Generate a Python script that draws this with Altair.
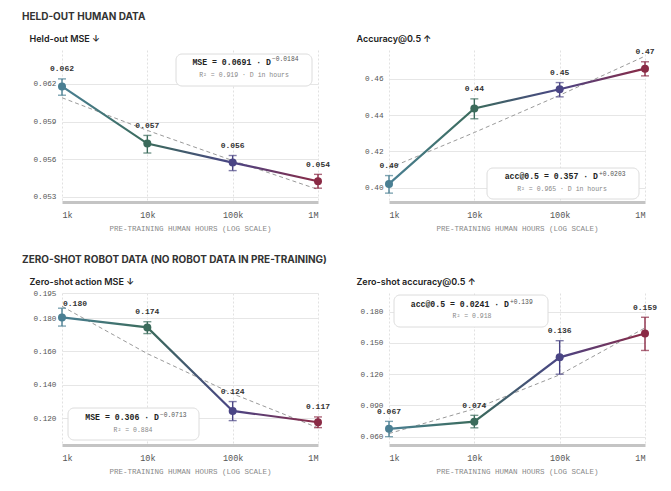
import altair as alt
import pandas as pd

# ---------------- data ----------------
hours = [1000, 10000, 100000, 1000000]
hour_labels = ["1k", "10k", "100k", "1M"]
point_colors = ["#4a7f93", "#3b6b5b", "#4a4585", "#8a2a45"]

heldout_mse = [0.06180, 0.05725, 0.05574, 0.05425]
heldout_mse_lo = [0.0611, 0.0565, 0.0551, 0.0537]
heldout_mse_hi = [0.0624, 0.0579, 0.0563, 0.0548]
heldout_mse_fit = [0.0609, 0.0583, 0.0559, 0.0536]
heldout_mse_labels = ["0.062", "0.057", "0.056", "0.054"]

heldout_acc = [0.4020, 0.4437, 0.4543, 0.4657]
heldout_acc_lo = [0.3969, 0.4380, 0.4501, 0.4617]
heldout_acc_hi = [0.4066, 0.4490, 0.4580, 0.4695]
heldout_acc_fit = [0.4107, 0.4304, 0.4510, 0.4726]
heldout_acc_labels = ["0.40", "0.44", "0.45", "0.47"]

zs_mse = [0.1804, 0.1744, 0.1244, 0.1176]
zs_mse_lo = [0.1752, 0.1707, 0.1186, 0.1144]
zs_mse_hi = [0.1859, 0.1778, 0.1300, 0.1208]
zs_mse_fit = [0.1870, 0.1587, 0.1347, 0.1143]
zs_mse_labels = ["0.180", "0.174", "0.124", "0.117"]

zs_acc = [0.0675, 0.0744, 0.1362, 0.1591]
zs_acc_lo = [0.0600, 0.0685, 0.1200, 0.1428]
zs_acc_hi = [0.0747, 0.0805, 0.1522, 0.1747]
zs_acc_fit = [0.0630, 0.0867, 0.1194, 0.1645]
zs_acc_labels = ["0.067", "0.074", "0.136", "0.159"]

section_titles = ["HELD-OUT HUMAN DATA", "ZERO-SHOT ROBOT DATA (NO ROBOT DATA IN PRE-TRAINING)"]
panel_titles = ["Held-out MSE \u2193", "Accuracy@0.5 \u2191", "Zero-shot action MSE \u2193", "Zero-shot accuracy@0.5 \u2191"]
fit_main = ["MSE = 0.0691 \u00b7 D", "acc@0.5 = 0.357 \u00b7 D", "MSE = 0.306 \u00b7 D", "acc@0.5 = 0.0241 \u00b7 D"]
fit_exp = ["\u22120.0184", "+0.0203", "\u22120.0713", "+0.139"]
fit_r2 = ["R\u00b2 = 0.919 \u00b7 D in hours", "R\u00b2 = 0.965 \u00b7 D in hours", "R\u00b2 = 0.884", "R\u00b2 = 0.918"]

# ---------------- style ----------------
MONO = "Liberation Mono"
SANS = "Inter"
W, H = 256, 152

label_expr = " : ".join(
    f"datum.value == {h} ? '{l}'" for h, l in zip(hours, hour_labels)
) + " : ''"

line_gradient = alt.Gradient(
    gradient="linear",
    stops=[
        alt.GradientStop(color=point_colors[0], offset=0),
        alt.GradientStop(color=point_colors[1], offset=0.333),
        alt.GradientStop(color=point_colors[2], offset=0.667),
        alt.GradientStop(color=point_colors[3], offset=1),
    ],
    x1=0, x2=1, y1=0, y2=0,
)


def panel(values, lo, hi, fit, labels, domain, ticks, fmt, ytitle, box, section=None, nudge_first=False):
    df = pd.DataFrame({
        "hours": hours, "value": values, "lo": lo, "hi": hi,
        "fit": fit, "label": labels, "color": point_colors,
    })
    xaxis = alt.Axis(
        values=hours, labelExpr=label_expr, title="PRE-TRAINING HUMAN HOURS (LOG SCALE)",
        grid=True, gridDash=[2, 2], gridColor="#d9d9d9", gridWidth=0.8,
        domainColor="#c4c4c4", domainWidth=3, ticks=False,
        labelFont=MONO, labelFontSize=8.5, labelColor="#555", labelPadding=8,
        titleFont=MONO, titleFontSize=7.5, titleColor="#888", titleFontWeight="normal",
        titlePadding=6,
    )
    yaxis = alt.Axis(
        values=ticks, format=fmt, title=ytitle, titleAngle=0, titleAlign="left",
        titleX=-33, titleY=-12, titleBaseline="middle", titleFont=SANS,
        titleFontSize=9, titleFontWeight=600, titleColor="#222",
        domain=False, ticks=False, labelPadding=6, labelFont=MONO,
        labelFontSize=7.7, labelColor="#555", gridColor="#e6e6e6", gridWidth=1,
    )
    x = alt.X("hours:Q", scale=alt.Scale(type="log", domain=[1000, 1000000], nice=False), axis=xaxis)
    yscale = alt.Scale(domain=domain, nice=False, zero=False)

    def Y(field):
        return alt.Y(f"{field}:Q", scale=yscale, axis=yaxis)

    pcolor = alt.Color("color:N", scale=None)
    base = alt.Chart(df)
    fit_line = base.mark_line(strokeDash=[4, 3], color="#9a9a9a", strokeWidth=1).encode(x=x, y=Y("fit"))
    main_line = base.mark_line(color=line_gradient, strokeWidth=2.2).encode(x=x, y=Y("value"))
    err = base.mark_rule(strokeWidth=1.4).encode(x=x, y=Y("lo"), y2="hi:Q", color=pcolor)
    cap_lo = base.mark_tick(orient="horizontal", size=8, thickness=1.4).encode(x=x, y=Y("lo"), color=pcolor)
    cap_hi = base.mark_tick(orient="horizontal", size=8, thickness=1.4).encode(x=x, y=Y("hi"), color=pcolor)
    pts = base.mark_circle(size=64, opacity=1).encode(x=x, y=Y("value"), color=pcolor)

    txt_style = dict(font=MONO, fontSize=8, fontWeight="bold", color="#333", baseline="middle")
    first = hours[0]
    if nudge_first:
        txt = base.transform_filter(f"datum.hours != {first}").mark_text(dy=-9.5, **txt_style).encode(
            x=x, y=Y("hi"), text="label:N")
        txt0 = base.transform_filter(f"datum.hours == {first}").mark_text(
            dy=-4.5, dx=1, align="left", **txt_style).encode(x=x, y=Y("hi"), text="label:N")
        texts = [txt, txt0]
    else:
        texts = [base.mark_text(dy=-9.5, **txt_style).encode(x=x, y=Y("hi"), text="label:N")]

    i = box["i"]
    bdf = pd.DataFrame({"main": [fit_main[i]], "exp": [fit_exp[i]], "r2": [fit_r2[i]]})
    bbase = alt.Chart(bdf)
    rect = bbase.mark_rect(fill="white", stroke="#dcdcdc", strokeWidth=1, cornerRadius=6).encode(
        x=alt.value(box["x0"]), x2=alt.value(box["x1"]), y=alt.value(box["y0"]), y2=alt.value(box["y1"]))
    t_main = bbase.mark_text(font=MONO, fontSize=8.2, fontWeight="bold", color="#222",
                             align="right", baseline="middle").encode(
        x=alt.value(box["sx"]), y=alt.value(box["l1"]), text="main:N")
    t_exp = bbase.mark_text(font=MONO, fontSize=6.3, color="#555",
                            align="left", baseline="middle").encode(
        x=alt.value(box["sx"] + 1), y=alt.value(box["l1"] - 3.5), text="exp:N")
    t_r2 = bbase.mark_text(font=MONO, fontSize=6.5, color="#888",
                           align="center", baseline="middle").encode(
        x=alt.value(box["cx"]), y=alt.value(box["l2"]), text="r2:N")

    ch = alt.layer(fit_line, main_line, err, cap_lo, cap_hi, pts, *texts, rect, t_main, t_exp, t_r2)
    props = dict(width=W, height=H)
    if section:
        props["title"] = alt.TitleParams(
            section, anchor="start", frame="group", dx=-40, offset=4, baseline="alphabetic",
            font=SANS, fontSize=10, fontWeight=700, color="#333", limit=600)
    return ch.properties(**props)


tl = panel(heldout_mse, heldout_mse_lo, heldout_mse_hi, heldout_mse_fit, heldout_mse_labels,
           [0.0526, 0.0647], [0.053, 0.056, 0.059, 0.062], ".3f", panel_titles[0],
           dict(i=0, x0=114, x1=250, y0=4, y1=36, sx=209, cx=182, l1=12.5, l2=25),
           section=section_titles[0])
tr = panel(heldout_acc, heldout_acc_lo, heldout_acc_hi, heldout_acc_fit, heldout_acc_labels,
           [0.392, 0.476], [0.40, 0.42, 0.44, 0.46], ".2f", panel_titles[1],
           dict(i=1, x0=98, x1=250, y0=118, y1=149, sx=209, cx=173, l1=127, l2=138.5))
bl = panel(zs_mse, zs_mse_lo, zs_mse_hi, zs_mse_fit, zs_mse_labels,
           [0.104, 0.195], [0.12, 0.14, 0.16, 0.18, 0.195], ".3f", panel_titles[2],
           dict(i=2, x0=6, x1=137, y0=115, y1=147, sx=97, cx=71, l1=125, l2=136.7),
           section=section_titles[1], nudge_first=True)
br = panel(zs_acc, zs_acc_lo, zs_acc_hi, zs_acc_fit, zs_acc_labels,
           [0.052, 0.198], [0.06, 0.09, 0.12, 0.15, 0.18], ".3f", panel_titles[3],
           dict(i=3, x0=5, x1=159, y0=2, y1=34, sx=120, cx=83, l1=12, l2=23.3))

chart = alt.concat(
    tl, tr, bl, br, columns=2, bounds="flush", spacing={"row": 91, "column": 71}
).configure_view(stroke=None).properties(
    padding={"left": 14, "top": 4, "right": 5, "bottom": 5}, background="white"
)

chart.save("out.html", embed_options={"renderer": "svg", "actions": False})
